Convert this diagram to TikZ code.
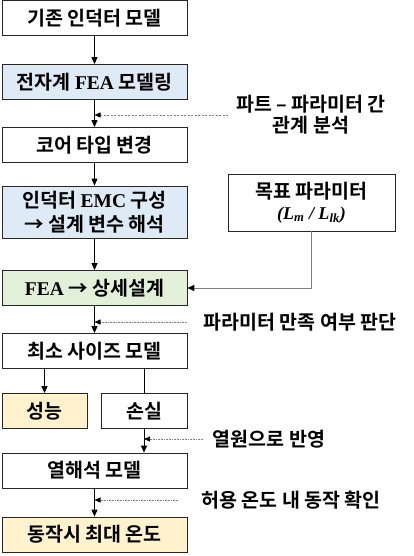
\documentclass[tikz,border=0pt]{standalone}
\usepackage{fontspec}
\newfontfamily\kr{Noto Sans CJK KR}[BoldFont={* Bold}]
\newfontfamily\tnr{Liberation Serif}
\usetikzlibrary{arrows.meta}
\definecolor{bluefill}{HTML}{DEEBF7}
\definecolor{greenfill}{HTML}{E2F0D9}
\definecolor{yellowfill}{HTML}{FFF2CC}
\definecolor{linegray}{HTML}{808080}
\begin{document}
\begin{tikzpicture}[x=1pt,y=-1pt,
  box/.style={draw=black!85, line width=0.8pt, minimum width=185pt, minimum height=35pt,
    inner sep=0pt, align=center, font=\kr\bfseries\fontsize{19.5}{24}\selectfont},
  lbl/.style={inner sep=0pt, align=center, font=\kr\bfseries\fontsize{19.5}{21}\selectfont},
  arr/.style={line width=1pt, -{Triangle[length=7pt,width=6pt]}},
  plain/.style={line width=1pt},
  dotarr/.style={linegray, line width=0.6pt, densely dotted, arrows={-{Triangle[length=6pt,width=5pt,black]}}},
  dasharr/.style={linegray, line width=0.6pt, dash pattern=on 2pt off 1.5pt, arrows={-{Triangle[length=6pt,width=5pt,black]}}},
  grayline/.style={linegray, line width=1pt, arrows={-{Triangle[length=7pt,width=6pt,black]}}}
]
\useasboundingbox (0,0) rectangle (414,556);
\newcommand{\fe}{{\tnr\bfseries FEA}}
\newcommand{\emc}{{\tnr\bfseries EMC}}

\node[box] (b1) at (94.5,18) {기존 인덕터 모델};
\node[box, fill=bluefill] (b2) at (94.5,82) {전자계 \fe{} 모델링};
\node[box] (b3) at (94.5,145) {코어 타입 변경};
\node[box, fill=bluefill, minimum height=52pt] (b4) at (94.5,212) {인덕터 \emc{} 구성\\→ 설계 변수 해석};
\node[box, fill=greenfill] (b5) at (94.5,288) {\fe{} → 상세설계};
\node[box] (b6) at (94.5,351) {최소 사이즈 모델};
\node[box, fill=yellowfill, minimum width=85pt] (perf) at (44.5,411) {성능};
\node[box, minimum width=86pt] (loss) at (144,411) {손실};
\node[box] (b7) at (94.5,470.5) {열해석 모델};
\node[box, fill=yellowfill] (b8) at (94.5,534.5) {동작시 최대 온도};

\node[box, minimum width=167pt, minimum height=57pt] (tgt) at (311.5,202.5)
  {목표 파라미터\\[-3pt]{\tnr\bfseries\itshape\fontsize{18}{20}\selectfont (L\textsubscript{m} / L\textsubscript{lk})}};

\node[lbl] (l1) at (311,114.5) {파트 – 파라미터 간\\관계 분석};
\node[lbl] (l2) at (300,322) {파라미터 만족 여부 판단};
\node[lbl] (l3) at (269,439) {열원으로 반영};
\node[lbl] (l4) at (291,500) {허용 온도 내 동작 확인};

\draw[arr] (b1) -- (b2);
\draw[arr] (b2) -- (b3);
\draw[arr] (b3) -- (b4);
\draw[arr] (b4) -- (b5);
\draw[arr] (b5) -- (b6);
\draw[arr] (perf.north |- b6.south) -- (perf.north);
\draw[plain] (loss.north |- b6.south) -- (loss.north);
\draw[arr] (loss.south) -- (loss.south |- b7.north);
\draw[arr] (b7) -- (b8);

\draw[grayline] (tgt.south) |- (b5.east);

\coordinate (d1) at (228,115);
\coordinate (d2) at (187,322);
\coordinate (d3) at (203,439);
\coordinate (d4) at (178,500);
\draw[dasharr] (d1) -- (d1 -| b2.south);
\draw[dotarr] (d2) -- (d2 -| b5.south);
\draw[dotarr] (d3) -- (d3 -| loss.south);
\draw[dotarr] (d4) -- (d4 -| b7.south);
\end{tikzpicture}
\end{document}
